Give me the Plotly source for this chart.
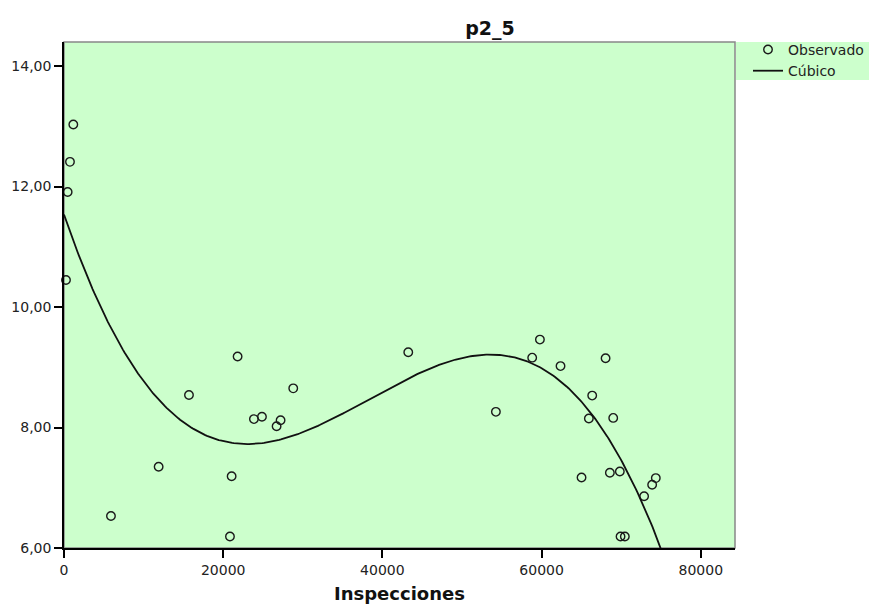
import numpy as np
import plotly.graph_objects as go

# Observed data (Inspecciones vs p2_5)
inspecciones = [250, 460, 750, 1170,
                5900, 11890, 15700, 20850, 21060, 21810, 23860, 24870, 26710, 27210, 28800,
                43250, 54260, 58820, 59790, 62380, 65020, 65940, 66360,
                68040, 68580, 69000, 69830, 69920, 70460, 72880, 73890, 74350]
p2_5 = [10.45, 11.91, 12.41, 13.03,
        6.53, 7.35, 8.54, 6.19, 7.19, 9.18, 8.14, 8.18, 8.02, 8.12, 8.65,
        9.25, 8.26, 9.16, 9.46, 9.02, 7.17, 8.15, 8.53,
        9.15, 7.25, 8.16, 7.27, 6.19, 6.19, 6.86, 7.05, 7.16]

x_ticks = [0, 20000, 40000, 60000, 80000]
y_ticks = [6, 8, 10, 12, 14]

x_arr = np.array(inspecciones, dtype=float)
y_arr = np.array(p2_5, dtype=float)
coef = np.polyfit(x_arr / 10000.0, y_arr, 3)
xf = np.linspace(0, 84300, 400)
yf = np.polyval(coef, xf / 10000.0)

GREEN = "#ccffcc"
FONT = "DejaVu Sans, Verdana, sans-serif"

fig = go.Figure()
fig.add_trace(go.Scatter(
    x=x_arr, y=y_arr, mode="markers", name="Observado",
    marker=dict(symbol="circle-open", size=8.5, color="#1a1a1a", line=dict(width=1.4)),
    cliponaxis=False,
))
fig.add_trace(go.Scatter(
    x=xf, y=yf, mode="lines", name="Cúbico",
    line=dict(color="#111111", width=1.8),
))

fig.update_layout(
    width=869, height=596,
    margin=dict(l=56, r=142, t=34, b=56, autoexpand=False),
    paper_bgcolor="white",
    plot_bgcolor=GREEN,
    separators=",.",
    font=dict(family=FONT, size=14, color="#222222"),
    title=dict(text="<b>p2_5</b>", x=(490 - 8) / 869, xanchor="center",
               y=1 - (28 - 8) / 596, yanchor="middle",
               font=dict(family=FONT, size=19, color="#111111")),
    showlegend=True,
    legend=dict(x=(748 - 64) / 671, xanchor="left", y=1.016, yanchor="top",
                bgcolor="rgba(0,0,0,0)",
                font=dict(family=FONT, size=14, color="#222222"),
                itemwidth=30, tracegroupgap=0, traceorder="normal",
                borderwidth=0),
    xaxis=dict(range=[0, 84300], tickvals=x_ticks, tickformat="d", automargin=False,
               showgrid=False, zeroline=False, showline=True, linecolor="black", linewidth=1.5,
               ticks="outside", ticklen=8, tickcolor="black", tickwidth=1.5,
               tickfont=dict(size=14, color="#222222")),
    yaxis=dict(range=[6, 14.40], tickvals=y_ticks, tickformat=".2f", automargin=False,
               showgrid=False, zeroline=False, showline=True, linecolor="black", linewidth=1.5,
               ticks="outside", ticklen=8, tickcolor="black", tickwidth=1.5,
               tickfont=dict(size=14, color="#222222")),
    shapes=[
        dict(type="rect", xref="paper", yref="paper", x0=0, x1=1, y0=0, y1=1,
             line=dict(color="#888888", width=1.5), layer="below"),
        dict(type="rect", xref="paper", yref="paper", x0=1.0015, x1=(877 - 64) / 671,
             y0=(548 - 80) / 506, y1=1, fillcolor=GREEN, line=dict(width=0), layer="below"),
    ],
    annotations=[dict(text="<b>Inspecciones</b>", xref="paper", yref="paper", x=0.5, y=0,
                      yshift=-45, xanchor="center", yanchor="middle", showarrow=False,
                      font=dict(family=FONT, size=18, color="#111111"))],
)

fig.write_html("out.html")
